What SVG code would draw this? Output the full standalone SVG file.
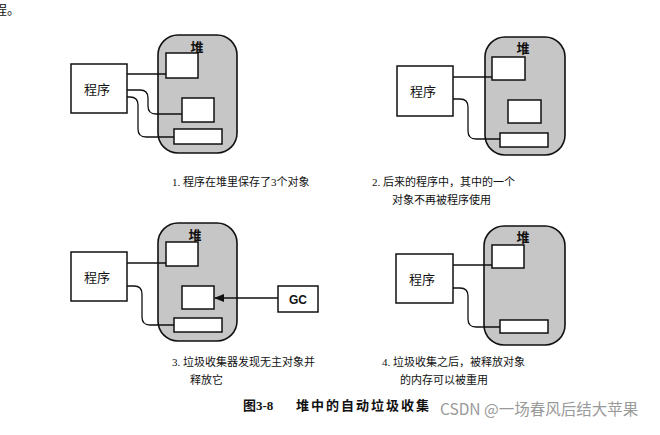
<svg xmlns="http://www.w3.org/2000/svg" width="660" height="435" viewBox="0 0 660 435">
<defs>
<style>
.heap{fill:#c6c6c6;stroke:#111;stroke-width:1.6}
.box{fill:#fff;stroke:#111;stroke-width:1.5}
.ln{fill:none;stroke:#111;stroke-width:1.3}
.t{font-family:"Liberation Serif","Noto Sans CJK SC",serif;fill:#111}
.lab{font-size:13px}
.cap{font-size:11px}
.ttl{font-size:13px;font-weight:bold}
.gc{font-family:"Liberation Sans",Arial,sans-serif;font-size:12px;font-weight:bold;fill:#111}
.wm{font-family:"Noto Sans CJK SC","Noto Sans",sans-serif;font-size:15.5px;fill:#9a9a9a}
</style>
<marker id="ah" markerWidth="10" markerHeight="8" refX="9" refY="4" orient="auto" markerUnits="userSpaceOnUse">
<path d="M0,0 L10,4 L0,8 Z" fill="#111"/>
</marker>
</defs>
<rect width="660" height="435" fill="#fff"/>
<text class="t" x="-6" y="14" font-size="13">程。</text>

<!-- Panel 1 -->
<g id="p1-heap"><rect class="heap" x="158" y="35" width="79" height="118" rx="20"/><text class="t lab" x="197" y="52" text-anchor="middle" font-weight="bold">堆</text></g>
<g id="p1-prog"><rect class="box" x="71" y="64" width="56" height="49"/><text class="t lab" x="97" y="94" text-anchor="middle">程序</text></g>
<g id="p1-o1"><rect class="box" x="166" y="53" width="32" height="25"/></g>
<g id="p1-o2"><rect class="box" x="182" y="98" width="32" height="24"/></g>
<g id="p1-o3"><rect class="box" x="174" y="129" width="48" height="15"/></g>

<!-- Panel 2 -->
<g id="p2-heap"><rect class="heap" x="485" y="37" width="80" height="118" rx="20"/><text class="t lab" x="523" y="53" text-anchor="middle" font-weight="bold">堆</text></g>
<g id="p2-prog"><rect class="box" x="397" y="66" width="56" height="50"/><text class="t lab" x="423" y="96" text-anchor="middle">程序</text></g>
<g id="p2-o1"><rect class="box" x="492" y="57" width="33" height="23"/></g>
<g id="p2-o2"><rect class="box" x="508" y="100" width="33" height="23"/></g>
<g id="p2-o3"><rect class="box" x="500" y="133" width="48" height="14"/></g>

<!-- Panel 3 -->
<g id="p3-heap"><rect class="heap" x="158" y="223" width="79" height="118" rx="20"/><text class="t lab" x="195" y="240" text-anchor="middle" font-weight="bold">堆</text></g>
<g id="p3-prog"><rect class="box" x="71" y="252" width="56" height="49"/><text class="t lab" x="97" y="282" text-anchor="middle">程序</text></g>
<g id="p3-o1"><rect class="box" x="166" y="242" width="32" height="24"/></g>
<g id="p3-o2"><rect class="box" x="182" y="286" width="32" height="23"/></g>
<g id="p3-o3"><rect class="box" x="174" y="318" width="48" height="14"/></g>
<g id="p3-gc"><rect class="box" x="278" y="286" width="40" height="26"/><text class="gc" x="298" y="303.5" text-anchor="middle">GC</text></g>

<!-- Panel 4 -->
<g id="p4-heap"><rect class="heap" x="484" y="226" width="81" height="119" rx="20"/><text class="t lab" x="523" y="242" text-anchor="middle" font-weight="bold">堆</text></g>
<g id="p4-prog"><rect class="box" x="396" y="254" width="57" height="49"/><text class="t lab" x="422" y="284" text-anchor="middle">程序</text></g>
<g id="p4-o1"><rect class="box" x="492" y="245" width="32" height="23"/></g>
<g id="p4-o3"><rect class="box" x="500" y="320" width="48" height="13"/></g>

<g id="connectors">
<path class="ln" d="M127,74 H166"/>
<path class="ln" d="M127,90 H140 Q148,90 148,98 V106 Q148,114 156,114 H182"/>
<path class="ln" d="M127,97 H130 Q138,97 138,105 V129 Q138,137 146,137 H174"/>
<path class="ln" d="M453,77 H492"/>
<path class="ln" d="M453,99 H460 Q468,99 468,107 V131 Q468,139 476,139 H500"/>
<path class="ln" d="M127,263 H166"/>
<path class="ln" d="M127,286 H134 Q142,286 142,294 V317 Q142,325 150,325 H174"/>
<path class="ln" d="M278,298 H215" marker-end="url(#ah)"/>
<path class="ln" d="M453,265 H492"/>
<path class="ln" d="M453,288 H460 Q468,288 468,296 V319 Q468,327 476,327 H500"/>
</g>

<g id="captions">
<text class="t cap" x="172" y="186">1. 程序在堆里保存了3个对象</text>
<text class="t cap" x="372" y="186">2. 后来的程序中，其中的一个</text>
<text class="t cap" x="392" y="204">对象不再被程序使用</text>
<text class="t cap" x="172" y="366">3. 垃圾收集器发现无主对象并</text>
<text class="t cap" x="190" y="384">释放它</text>
<text class="t cap" x="382" y="366">4. 垃圾收集之后，被释放对象</text>
<text class="t cap" x="400" y="384">的内存可以被重用</text>
<text class="t ttl" x="243" y="410">图3-8</text>
<text class="t ttl" x="296" y="410" letter-spacing="2">堆中的自动垃圾收集</text>
<text class="wm" x="440" y="415">CSDN @一场春风后结大苹果</text>
</g>
</svg>
